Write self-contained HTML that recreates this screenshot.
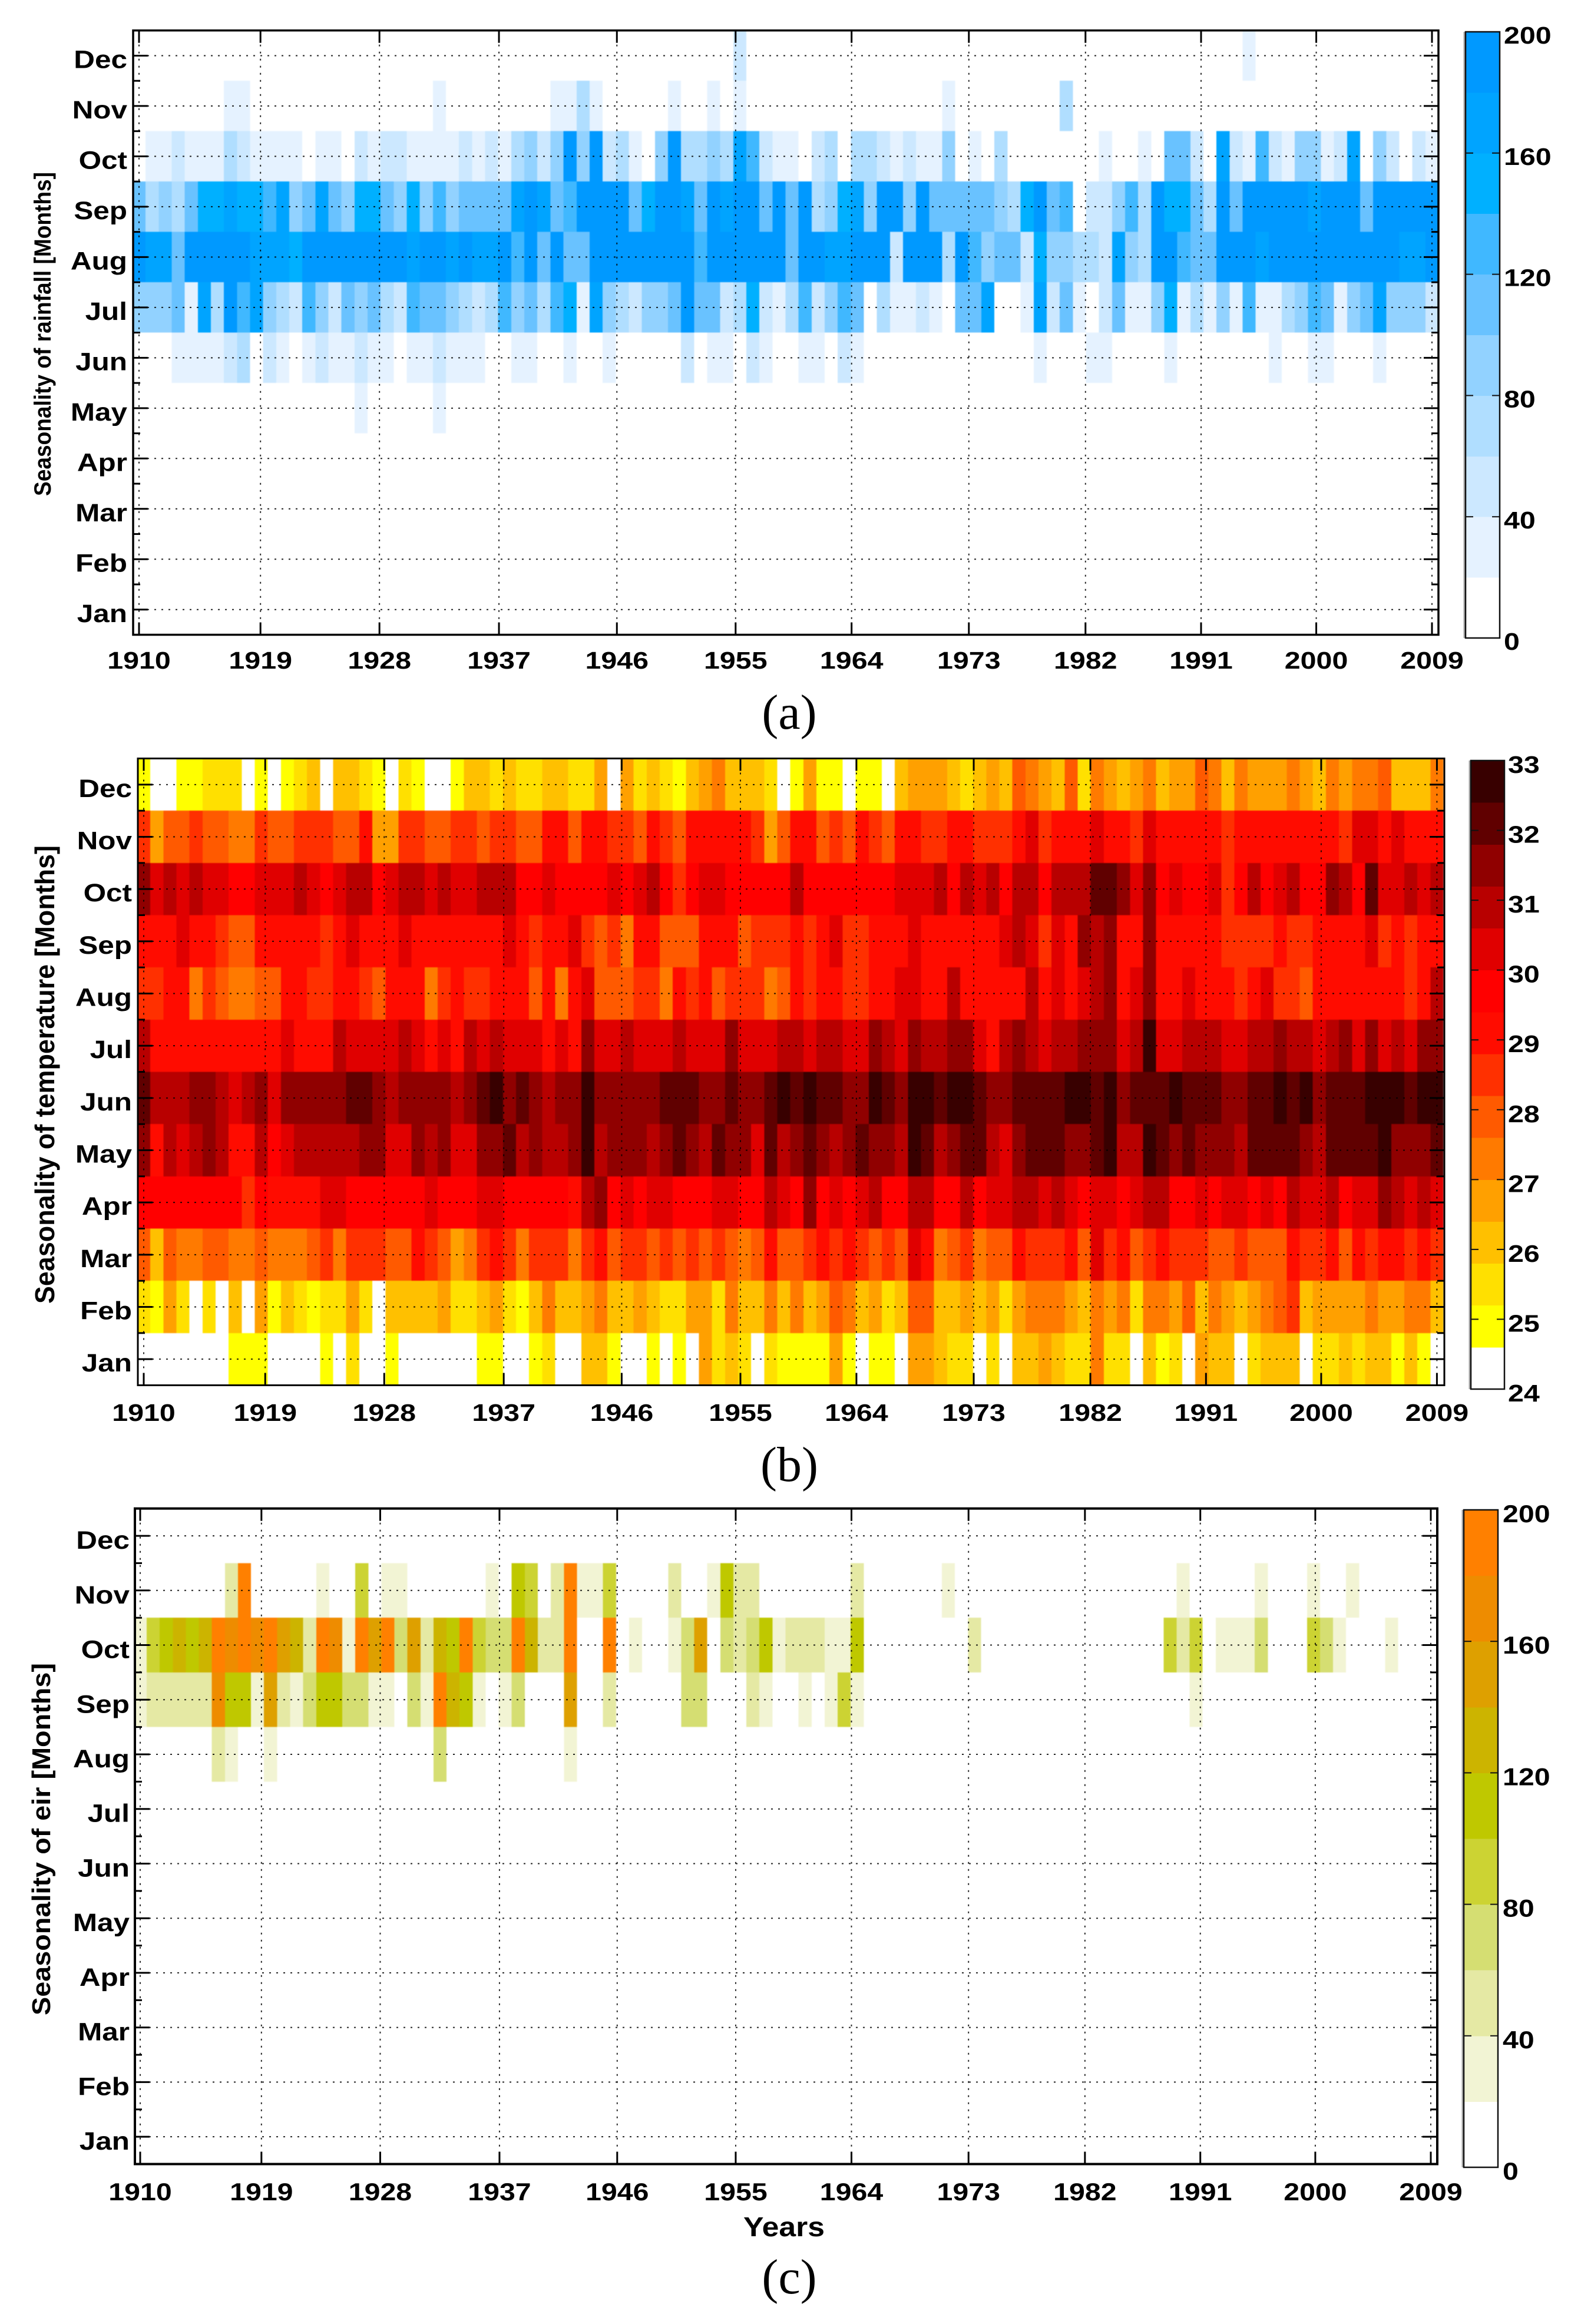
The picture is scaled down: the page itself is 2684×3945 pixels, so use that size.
<!DOCTYPE html>
<html lang="en">
<head>
<meta charset="utf-8">
<title>Seasonality of rainfall, temperature and EIR, 1910-2009</title>
<style>
html,body{margin:0;padding:0;background:#fff;}
#figure{display:block;width:2684px;height:3945px;background:#fff;}
text{fill:#000;}
.cells{filter:blur(0.9px);}
</style>
</head>
<body>
<svg id="figure" xmlns="http://www.w3.org/2000/svg" width="2684" height="3945" viewBox="0 0 2684 3945"></svg>
<script>
const yearTicks = [1910,1919,1928,1937,1946,1955,1964,1973,1982,1991,2000,2009];
/* the printed year ticks sit slightly off their true column; drift in years */
const yearTickDrift = [0,0.30,0.41,0.56,0.59,0.68,0.56,0.54,0.47,0.32,0.14,0];
const monthLabels = ['Jan','Feb','Mar','Apr','May','Jun','Jul','Aug','Sep','Oct','Nov','Dec'];
const rainBarTicks = [0,40,80,120,160,200];
const tempBarTicks = [24,25,26,27,28,29,30,31,32,33];
const eirBarTicks = [0,40,80,120,160,200];

const noSignal = [0,0,0,0,0,0,0,0,0,0,0,0,0,0,0,0,0,0,0,0,0,0,0,0,0,0,0,0,0,0,0,0,0,0,0,0,0,0,0,0,0,0,0,0,0,0,0,0,0,0,0,0,0,0,0,0,0,0,0,0,0,0,0,0,0,0,0,0,0,0,0,0,0,0,0,0,0,0,0,0,0,0,0,0,0,0,0,0,0,0,0,0,0,0,0,0,0,0,0,0];

/* Panel (a): rainfall */
const rainMay = [0,0,0,0,0,0,0,0,0,0, 0,0,0,0,0,0,0,30,0,0, 0,0,0,30,0,0,0,0,0,0, 0,0,0,0,0,0,0,0,0,0, 0,0,0,0,0,0,0,0,0,0, 0,0,0,0,0,0,0,0,0,0, 0,0,0,0,0,0,0,0,0,0, 0,0,0,0,0,0,0,0,0,0, 0,0,0,0,0,0,0,0,0,0, 0,0,0,0,0,0,0,0,0,0];
const rainJun = [0,0,0,30,30,30,30,50,70,0, 50,30,0,30,50,30,30,50,30,30, 0,30,30,50,30,30,30,0,0,30, 30,0,0,30,0,0,30,0,0,0, 0,0,50,0,30,30,0,50,30,0, 0,30,30,0,50,30,0,0,0,0, 0,0,0,0,0,0,0,0,0,30, 0,0,0,30,30,0,0,0,0,30, 0,0,0,0,0,0,0,30,0,0, 30,30,0,0,0,30,0,0,0,0];
const rainJul = [90,90,90,110,30,170,70,190,130,170, 90,70,50,130,90,50,110,90,110,70, 50,130,110,110,90,70,50,70,130,90, 110,70,130,150,30,170,90,70,50,90, 90,110,190,110,110,50,70,150,50,30, 70,130,50,90,130,110,0,70,30,30, 50,30,0,110,110,170,0,0,30,170, 50,110,30,0,50,110,30,30,90,150, 30,70,30,90,30,130,30,30,70,90, 130,110,30,90,110,170,90,90,90,50];
const rainAug = [190,170,170,110,190,190,190,190,190,170, 170,170,150,190,190,190,190,190,190,190, 190,170,190,190,170,190,170,170,190,130, 190,110,190,110,110,190,190,190,190,190, 190,190,190,130,190,190,190,190,190,190, 110,190,190,170,170,190,190,190,50,190, 190,190,70,190,130,90,110,110,50,150, 90,90,70,70,50,170,90,70,190,190, 130,110,110,190,190,190,170,190,190,190, 190,190,190,190,190,190,190,170,170,190];
const rainSep = [110,70,90,70,110,150,150,170,150,150, 130,170,90,110,170,110,90,150,150,110, 90,150,90,130,90,110,110,110,110,170, 190,170,110,130,190,190,190,190,110,150, 190,190,170,110,190,170,190,190,110,190, 110,190,70,90,150,170,90,190,190,90, 190,110,110,110,110,110,90,70,150,190, 110,130,0,50,50,90,130,70,190,150, 150,110,70,190,110,190,190,190,190,190, 170,190,190,190,110,190,190,190,190,190];
const rainOct = [0,30,30,50,30,30,30,70,50,30, 30,30,30,0,30,30,0,50,30,50, 50,30,30,30,30,50,30,50,30,70, 90,50,90,190,90,190,50,70,30,0, 90,190,70,70,90,70,170,130,50,30, 30,0,50,70,0,70,70,50,30,50, 30,30,90,0,30,0,70,0,0,0, 0,0,0,0,30,0,0,30,0,110, 110,50,0,170,50,30,130,50,30,90, 90,30,50,170,0,90,50,0,50,30];
const rainNov = [0,0,0,0,0,0,0,30,30,0, 0,0,0,0,0,0,0,0,0,0, 0,0,0,30,0,0,0,0,0,0, 0,0,30,30,70,30,0,0,0,0, 0,30,0,0,30,0,30,0,0,0, 0,0,0,0,0,0,0,0,0,0, 0,0,30,0,0,0,0,0,0,0, 0,70,0,0,0,0,0,0,0,0, 0,0,0,0,0,0,0,0,0,0, 0,0,0,0,0,0,0,0,0,0];
const rainDec = [0,0,0,0,0,0,0,0,0,0, 0,0,0,0,0,0,0,0,0,0, 0,0,0,0,0,0,0,0,0,0, 0,0,0,0,0,0,0,0,0,0, 0,0,0,0,0,0,50,0,0,0, 0,0,0,0,0,0,0,0,0,0, 0,0,0,0,0,0,0,0,0,0, 0,0,0,0,0,0,0,0,0,0, 0,0,0,0,0,30,0,0,0,0, 0,0,0,0,0,0,0,0,0,0];

/* Panel (b): temperature */
const tempJan = [24.3,24.3,24.3,24.3,24.3,24.3,24.3,24.9,24.9,24.9, 24.3,24.3,24.3,24.3,24.9,24.3,25.5,24.3,24.3,24.9, 24.3,24.3,24.3,24.3,24.3,24.3,24.9,24.9,24.3,24.3, 24.9,25.5,24.3,24.3,26.1,26.1,24.9,24.3,24.3,24.9, 24.3,24.9,24.3,26.7,25.5,26.1,25.5,24.3,25.5,24.9, 24.9,24.9,24.9,26.7,24.9,24.3,24.9,24.9,24.3,26.7, 26.7,26.1,25.5,25.5,24.3,25.5,24.3,26.1,26.1,26.7, 26.1,25.5,25.5,27.3,25.5,25.5,24.3,26.1,24.9,25.5, 24.3,26.7,26.1,26.1,24.3,25.5,26.1,26.1,26.1,24.3, 25.5,25.5,26.1,25.5,26.1,26.1,24.9,26.1,24.9,24.3];
const tempFeb = [25.5,24.9,26.7,25.5,24.3,25.5,24.3,26.1,24.3,26.7, 24.9,26.1,25.5,24.9,25.5,25.5,26.7,25.5,24.3,26.1, 26.1,26.1,26.1,26.7,25.5,25.5,26.1,26.7,25.5,24.9, 26.1,27.3,26.1,26.1,26.7,27.3,26.1,26.1,26.7,26.1, 25.5,25.5,26.7,26.7,25.5,27.3,26.1,26.1,27.3,26.1, 27.3,26.1,26.7,27.9,27.3,26.1,26.7,25.5,26.1,27.9, 27.9,26.1,26.1,26.7,26.1,26.7,25.5,26.7,27.3,27.3, 27.3,26.7,26.1,27.3,26.7,27.3,25.5,27.3,27.3,26.7, 27.9,26.1,27.3,26.7,26.1,26.7,27.3,27.9,28.5,26.1, 26.7,26.7,26.7,26.7,27.3,26.7,26.7,27.3,27.3,26.1];
const tempMar = [27.9,26.1,27.9,27.3,27.3,27.9,27.9,27.3,27.3,27.9, 27.3,27.3,27.3,27.9,28.5,27.3,28.5,28.5,28.5,27.9, 27.9,29.1,28.5,27.9,26.7,27.3,28.5,29.1,28.5,27.3, 28.5,28.5,28.5,27.3,28.5,29.1,27.9,28.5,28.5,27.9, 28.5,27.9,28.5,27.9,28.5,27.9,27.3,27.9,29.1,27.9, 27.9,28.5,29.1,28.5,29.1,28.5,27.9,28.5,27.9,30.3, 29.1,27.3,27.9,28.5,27.3,27.9,27.9,29.1,28.5,28.5, 28.5,29.1,27.9,30.3,28.5,29.1,27.9,28.5,29.1,28.5, 28.5,28.5,27.9,27.9,28.5,27.9,27.9,27.9,29.1,28.5, 28.5,29.1,27.9,29.1,28.5,29.1,29.1,28.5,29.1,28.5];
const tempApr = [29.7,29.7,29.7,29.7,29.7,29.7,29.7,29.7,28.5,29.7, 29.1,29.1,29.1,29.1,30.3,30.3,29.7,29.7,29.7,29.7, 29.7,29.7,30.3,29.7,29.7,29.7,30.3,30.3,29.7,29.7, 29.7,29.7,29.7,29.1,30.9,31.5,29.7,30.3,29.7,30.3, 30.3,29.7,29.7,29.7,30.3,30.3,29.7,29.7,30.9,30.3, 29.7,31.5,29.7,30.3,29.7,30.3,30.9,29.7,29.7,30.9, 30.9,29.7,29.7,30.9,29.7,30.3,30.3,30.9,30.9,30.3, 30.9,30.3,29.7,30.3,30.3,29.7,30.3,30.9,30.9,29.7, 29.7,30.3,29.7,30.3,30.3,29.7,30.3,29.7,30.9,30.3, 30.3,30.9,29.7,30.3,30.3,31.5,30.9,30.3,30.9,30.3];
const tempMay = [31.5,29.1,30.9,30.3,30.9,31.5,30.9,29.1,29.1,30.9, 29.7,30.3,30.9,30.9,30.9,30.9,30.9,31.5,31.5,30.3, 30.3,31.5,30.9,31.5,30.3,30.3,31.5,31.5,32.1,30.9, 31.5,30.9,30.9,31.5,32.7,30.9,31.5,31.5,31.5,30.9, 31.5,32.1,31.5,30.9,32.1,31.5,31.5,30.3,32.1,30.9, 31.5,32.1,31.5,30.9,31.5,32.1,31.5,31.5,30.9,32.7, 32.1,30.9,31.5,32.1,32.1,30.9,30.3,31.5,32.1,32.1, 32.1,31.5,31.5,32.1,32.7,30.9,30.9,32.7,32.1,31.5, 32.1,31.5,31.5,31.5,30.9,32.1,32.1,32.1,32.1,31.5, 30.9,32.1,32.1,32.1,32.1,32.7,31.5,31.5,31.5,32.1];
const tempJun = [32.1,30.9,30.9,30.9,31.5,31.5,30.9,30.3,30.9,31.5, 30.3,31.5,31.5,31.5,31.5,31.5,32.1,32.1,31.5,30.9, 31.5,31.5,31.5,31.5,30.9,31.5,32.1,32.7,31.5,32.1, 31.5,30.9,31.5,31.5,32.7,31.5,31.5,31.5,31.5,31.5, 32.1,32.1,32.1,31.5,31.5,32.1,31.5,31.5,32.1,32.7, 32.1,32.7,32.1,32.1,31.5,31.5,32.7,32.1,31.5,32.7, 32.7,32.1,32.7,32.7,32.1,31.5,31.5,32.1,32.1,32.1, 32.1,32.7,32.7,32.1,32.7,31.5,32.1,32.1,32.1,32.7, 32.1,32.1,32.1,31.5,31.5,32.1,32.1,32.7,32.1,32.7, 31.5,32.1,32.1,32.1,32.7,32.7,32.7,32.1,32.7,32.7];
const tempJul = [30.9,29.1,29.1,29.1,29.1,29.1,29.1,29.1,29.1,29.1, 29.1,30.3,29.1,29.1,29.1,30.9,30.3,30.3,30.3,30.3, 30.9,30.3,29.1,30.3,29.1,30.9,30.3,30.9,30.3,30.3, 30.3,29.1,30.3,29.1,31.5,30.3,30.3,30.9,30.3,30.3, 30.3,30.9,30.3,30.3,30.3,31.5,30.3,30.3,30.3,30.9, 30.9,30.3,30.9,30.9,30.3,30.3,31.5,30.9,30.3,31.5, 30.9,30.9,31.5,31.5,30.3,29.1,30.9,31.5,30.9,30.3, 30.9,30.9,31.5,31.5,31.5,30.3,30.9,32.7,30.3,30.3, 30.9,30.9,30.9,30.3,30.3,30.9,30.9,31.5,30.9,30.9, 30.3,30.9,31.5,30.3,31.5,30.3,30.9,30.3,31.5,31.5];
const tempAug = [28.5,28.5,29.1,29.1,27.3,28.5,27.9,27.3,27.3,27.9, 27.9,29.1,29.1,28.5,28.5,29.1,29.1,28.5,27.9,29.1, 29.1,29.1,27.3,28.5,29.1,28.5,28.5,29.1,29.1,29.1, 27.9,29.1,27.3,29.1,30.3,27.9,27.9,27.9,28.5,28.5, 27.3,29.1,28.5,29.1,27.9,28.5,28.5,28.5,27.3,27.9, 29.1,28.5,29.1,29.1,28.5,28.5,29.1,29.1,30.3,30.3, 29.1,29.1,30.9,29.1,29.1,29.1,29.1,29.1,30.9,29.1, 30.3,29.1,30.3,30.9,31.5,29.1,30.3,31.5,29.1,29.1, 30.3,29.1,29.1,29.1,28.5,29.1,30.3,28.5,28.5,27.9, 29.1,29.1,29.1,29.1,29.1,29.1,29.1,28.5,29.1,30.9];
const tempSep = [29.1,29.1,29.1,30.3,29.1,29.1,28.5,27.9,27.9,29.1, 29.1,29.1,29.1,29.1,28.5,29.1,30.3,29.1,29.1,29.1, 30.3,29.1,29.1,29.1,29.1,29.1,29.1,29.1,30.3,29.1, 28.5,29.1,29.1,30.3,28.5,27.9,28.5,27.3,29.1,29.1, 27.9,27.9,27.9,29.1,29.1,29.1,27.9,28.5,28.5,28.5, 29.1,28.5,29.1,30.3,28.5,28.5,29.1,29.1,29.1,30.3, 29.1,29.1,29.1,29.1,29.1,29.1,30.3,30.9,30.3,28.5, 30.3,29.1,31.5,30.9,31.5,29.1,29.1,31.5,29.1,29.1, 29.1,29.1,29.1,28.5,28.5,28.5,28.5,29.1,28.5,28.5, 29.1,29.1,29.1,29.1,30.3,28.5,29.1,28.5,29.1,29.1];
const tempOct = [31.5,30.3,30.9,30.3,30.9,30.3,30.3,29.7,29.7,30.3, 30.3,30.3,30.9,30.3,29.7,30.3,30.9,30.9,29.7,30.3, 30.9,30.9,30.3,30.9,30.3,30.3,30.9,30.9,30.9,29.7, 29.7,30.3,29.7,29.7,29.7,29.7,30.3,29.7,30.3,30.9, 29.7,28.5,29.7,30.3,30.3,29.7,29.7,29.7,29.7,29.7, 30.9,29.7,29.7,29.7,29.7,29.7,29.7,29.7,30.3,30.3, 30.3,30.9,29.7,30.9,30.3,30.9,29.7,30.9,30.9,29.7, 30.9,30.9,30.9,32.1,32.1,31.5,30.3,31.5,29.7,30.3, 29.7,29.7,30.3,28.5,29.7,30.9,29.7,30.3,30.9,29.7, 29.7,31.5,30.9,29.7,32.1,30.3,30.3,30.9,30.3,30.9];
const tempNov = [28.5,26.7,27.9,27.9,28.5,27.9,27.9,27.3,27.3,28.5, 27.9,27.9,28.5,28.5,28.5,27.9,27.9,29.1,26.7,26.7, 28.5,28.5,27.9,27.9,28.5,28.5,27.9,28.5,28.5,27.9, 27.9,29.1,29.1,27.9,29.1,29.1,28.5,28.5,27.9,29.1, 28.5,27.9,29.1,29.1,29.1,29.1,29.1,28.5,26.7,27.9, 29.1,29.1,27.9,28.5,27.9,29.1,28.5,27.9,29.1,29.1, 28.5,28.5,29.1,29.1,28.5,28.5,28.5,29.1,30.3,28.5, 29.1,29.1,29.1,30.3,29.1,29.1,28.5,30.3,29.1,29.1, 29.1,29.1,29.1,28.5,29.1,29.1,29.1,29.1,29.1,29.1, 29.1,29.1,28.5,30.3,30.3,29.1,30.3,29.1,29.1,29.1];
const tempDec = [24.9,24.3,24.3,24.9,24.9,25.5,25.5,25.5,24.3,24.9, 24.3,24.9,25.5,26.1,24.3,26.1,26.1,25.5,24.9,24.3, 25.5,24.9,24.3,24.3,24.9,26.1,26.1,25.5,26.1,25.5, 25.5,26.1,26.1,25.5,25.5,26.7,24.3,26.7,25.5,26.1, 25.5,24.9,26.1,26.7,27.3,26.1,26.1,26.1,25.5,24.3, 24.9,26.7,24.9,24.9,24.3,24.9,24.9,24.3,26.1,26.7, 26.7,26.7,26.1,25.5,26.1,26.7,26.1,27.9,27.3,26.7, 26.1,27.9,25.5,27.3,26.7,26.1,26.7,27.3,26.1,26.7, 26.7,27.9,27.3,26.1,27.3,26.7,26.7,26.7,27.3,26.7, 26.1,27.3,26.7,27.3,27.3,27.9,26.1,26.1,26.1,27.3];

/* Panel (c): EIR */
const eirAug = [0,0,0,0,0,0,50,30,0,0, 30,0,0,0,0,0,0,0,0,0, 0,0,0,70,0,0,0,0,0,0, 0,0,0,30,0,0,0,0,0,0, 0,0,0,0,0,0,0,0,0,0, 0,0,0,0,0,0,0,0,0,0, 0,0,0,0,0,0,0,0,0,0, 0,0,0,0,0,0,0,0,0,0, 0,0,0,0,0,0,0,0,0,0, 0,0,0,0,0,0,0,0,0,0];
const eirSep = [30,50,50,50,50,50,170,110,110,30, 150,50,30,70,110,110,70,70,30,30, 0,70,30,190,130,110,30,0,30,70, 0,0,0,150,0,0,50,0,0,0, 0,0,70,70,0,0,0,50,30,0, 0,30,0,30,90,30,0,0,0,0, 0,0,0,0,0,0,0,0,0,0, 0,0,0,0,0,0,0,0,0,0, 0,30,0,0,0,0,0,0,0,0, 0,0,0,0,0,0,0,0,0,0];
const eirOct = [30,90,110,130,110,130,190,170,190,170, 190,150,130,50,190,170,30,190,150,190, 70,150,50,130,110,190,90,70,70,190, 130,50,50,190,0,0,190,0,30,0, 0,30,70,150,0,70,50,70,110,30, 50,50,50,30,30,110,0,0,0,0, 0,0,0,0,50,0,0,0,0,0, 0,0,0,0,0,0,0,0,0,90, 50,90,0,30,30,30,70,0,0,0, 90,70,30,0,0,0,30,0,0,0];
const eirNov = [0,0,0,0,0,0,0,50,190,0, 0,0,0,0,30,0,0,90,0,30, 30,0,0,0,0,0,0,30,0,110, 90,0,50,190,30,30,90,0,0,0, 0,50,0,0,30,110,50,50,0,0, 0,0,0,0,0,50,0,0,0,0, 0,0,30,0,0,0,0,0,0,0, 0,0,0,0,0,0,0,0,0,0, 30,0,0,0,0,0,30,0,0,0, 30,0,0,30,0,0,0,0,0,0];

const rainSeries = [noSignal,noSignal,noSignal,noSignal,rainMay,rainJun,rainJul,rainAug,rainSep,rainOct,rainNov,rainDec];
const tempSeries = [tempJan,tempFeb,tempMar,tempApr,tempMay,tempJun,tempJul,tempAug,tempSep,tempOct,tempNov,tempDec];
const eirSeries = [noSignal,noSignal,noSignal,noSignal,noSignal,noSignal,noSignal,eirAug,eirSep,eirOct,eirNov,noSignal];

const rainColors = ['#ffffff','#e5f2ff','#cce8ff','#b0deff','#92d2ff','#69c2ff','#40b8ff','#00b0ff','#00a4ff','#0099ff'];
const tempColors = ['#ffffff','#ffff00','#ffe000','#ffc000','#ffa000','#ff7a00','#ff5a00','#ff3000','#ff0c00','#ff0000','#e00000','#b80000','#900000','#600000','#380000'];
const eirColors = ['#ffffff','#f2f4d4','#e5e9a4','#d5de72','#ccd333','#bfc800','#ccb400','#dea000','#ee8c00','#ff8000'];

const SVG_NS = 'http://www.w3.org/2000/svg';
const LABEL_FONT = '"Liberation Sans", sans-serif';
const figure = document.getElementById('figure');

function node(tag, attrs, parent) {
  const el = document.createElementNS(SVG_NS, tag);
  for (const k in attrs) el.setAttribute(k, attrs[k]);
  parent.appendChild(el);
  return el;
}
function stretchedText(str, x, y, size, sx, anchor, parent) {
  const el = node('text', {
    transform: 'translate(' + x + ',' + y + ') scale(' + sx + ',1)',
    'font-family': LABEL_FONT, 'font-weight': 'bold', 'font-size': size, 'text-anchor': anchor
  }, parent);
  el.textContent = str;
  return el;
}

function drawPanel(p) {
  const panel = node('g', {}, figure);
  
  

  const colorStep = (p.vMax - p.vMin) / p.colors.length;
  const xScale = y => p.x1910 + (y - 1910) * (p.x2009 - p.x1910) / 99;
  const yScale = m => p.bottom - (m + 0.5) * (p.bottom - p.top) / 12;
  const barScale = v => p.barTop + (p.vMax - v) * (p.barBottom - p.barTop) / (p.vMax - p.vMin);
  const colorOf = v => p.colors[Math.max(0, Math.min(p.colors.length - 1, Math.floor((v - p.vMin) / colorStep)))];
  const cellW = (p.x2009 - p.x1910) / 99;
  const cellH = (p.bottom - p.top) / 12;

  const cells = node('g', {class: 'cells', 'shape-rendering': 'crispEdges'}, panel);
  
  
  p.series.forEach((row, m) => {
    row.forEach((v, i) => {
      const cx = xScale(1910 + i);
      const left = Math.max(p.left, cx - cellW / 2);
      const right = Math.min(p.right, cx + cellW / 2);
      const cell = node('rect', {
        x: left, y: yScale(m) - cellH / 2, width: right - left, height: cellH, fill: colorOf(v)
      }, cells);
      
      
    });
  });

  const grid = node('g', {stroke: '#000', 'stroke-width': 2, 'stroke-opacity': 0.85}, panel);
  
  
  monthLabels.forEach((label, m) => {
    const line = node('line', {x1: p.left, x2: p.right, y1: yScale(m), y2: yScale(m), 'stroke-dasharray': '3 9'}, grid);
    
    
  });
  yearTicks.forEach((year, t) => {
    const x = xScale(year + yearTickDrift[t]);
    const line = node('line', {x1: x, x2: x, y1: p.top, y2: p.bottom, 'stroke-dasharray': '3 9'}, grid);
    
    
  });

  const ticks = node('g', {stroke: '#000', 'stroke-width': 3}, panel);
  
  
  yearTicks.forEach((year, t) => {
    const x = xScale(year + yearTickDrift[t]);
    const topTick = node('line', {x1: x, x2: x, y1: p.top, y2: p.top + 21}, ticks);
    
    
    const bottomTick = node('line', {x1: x, x2: x, y1: p.bottom - 21, y2: p.bottom}, ticks);
    
    
    const label = stretchedText(String(year), x, p.xLabelY, p.fontSize, p.digitStretch, 'middle', panel);
    
    
  });
  monthLabels.forEach((month, m) => {
    const y = yScale(m);
    const leftTick = node('line', {x1: p.left, x2: p.left + 25, y1: y, y2: y}, ticks);
    
    
    const rightTick = node('line', {x1: p.right - 25, x2: p.right, y1: y, y2: y}, ticks);
    
    
    if (m < 11) {
      const yb = y - cellH / 2;
      const minorLeft = node('line', {x1: p.left, x2: p.left + 12, y1: yb, y2: yb}, ticks);
      
      
      const minorRight = node('line', {x1: p.right - 12, x2: p.right, y1: yb, y2: yb}, ticks);
      
      
    }
    const label = stretchedText(month, p.yLabelX, y + p.yLabelDy, 43, 1.15, 'end', panel);
    
    
  });

  const frame = node('rect', {x: p.left, y: p.top, width: p.right - p.left, height: p.bottom - p.top, fill: 'none', stroke: '#000', 'stroke-width': p.frameWidth}, panel);
  
  

  const title = node('text', {
    transform: 'translate(' + p.titleX + ',' + p.titleCY + ') rotate(-90)',
    'font-family': LABEL_FONT, 'font-weight': 'bold', 'font-size': p.titleSize, 'text-anchor': 'middle',
    textLength: p.titleLen, lengthAdjust: 'spacingAndGlyphs'
  }, panel);
  title.textContent = p.title;
  
  

  /* colour bar */
  const bar = node('g', {}, panel);
  
  
  p.colors.forEach((color, k) => {
    const lo = p.vMin + k * colorStep;
    const seg = node('rect', {x: p.barLeft, y: barScale(lo + colorStep), width: p.barRight - p.barLeft, height: barScale(lo) - barScale(lo + colorStep) + 0.5, fill: color, 'shape-rendering': 'crispEdges'}, bar);
    
    
  });
  const barShadow = node('line', {x1: p.barLeft - 2, x2: p.barLeft - 2, y1: p.barTop, y2: p.barBottom, stroke: '#aaa', 'stroke-width': 3}, bar);
  
  
  const barFrame = node('rect', {x: p.barLeft, y: p.barTop, width: p.barRight - p.barLeft, height: p.barBottom - p.barTop, fill: 'none', stroke: '#111', 'stroke-width': 2.5}, bar);
  
  
  p.barTicks.forEach(v => {
    const y = barScale(v);
    const tl = node('line', {x1: p.barLeft, x2: p.barLeft + 13, y1: y, y2: y, stroke: '#111', 'stroke-width': 2}, bar);
    
    
    const tr = node('line', {x1: p.barRight - 13, x2: p.barRight, y1: y, y2: y, stroke: '#111', 'stroke-width': 2}, bar);
    
    
    const label = stretchedText(String(v), p.barLabelX, y + p.barLabelDy, p.fontSize, p.digitStretch, 'start', bar);
    
    
  });

  const caption = node('text', {x: 1340, y: p.captionY, 'font-family': '"Liberation Serif", serif', 'font-size': 84, 'text-anchor': 'middle'}, panel);
  caption.textContent = p.caption;
  
  
}

drawPanel({name: 'rainfall', series: rainSeries, colors: rainColors, vMin: 0, vMax: 200, barTicks: rainBarTicks,
  left: 226, right: 2442, top: 51.7, bottom: 1077.5, x1910: 236, x2009: 2431,
  barLeft: 2488, barRight: 2546, barTop: 54, barBottom: 1083, barLabelX: 2553, barLabelDy: 20,
  fontSize: 41, digitStretch: 1.18, xLabelY: 1135, yLabelX: 216, yLabelDy: 21, frameWidth: 3.5,
  title: 'Seasonality of rainfall [Months]', titleX: 86, titleCY: 567, titleSize: 40, titleLen: 550,
  caption: '(a)', captionY: 1237});

drawPanel({name: 'temperature', series: tempSeries, colors: tempColors, vMin: 24, vMax: 33, barTicks: tempBarTicks,
  left: 234, right: 2452, top: 1287.5, bottom: 2351.5, x1910: 244, x2009: 2439.4,
  barLeft: 2497, barRight: 2554, barTop: 1291, barBottom: 2358, barLabelX: 2560, barLabelDy: 21,
  fontSize: 41, digitStretch: 1.18, xLabelY: 2412, yLabelX: 224, yLabelDy: 21, frameWidth: 3,
  title: 'Seasonality of temperature [Months]', titleX: 92, titleCY: 1824, titleSize: 46, titleLen: 778,
  caption: '(b)', captionY: 2514});

drawPanel({name: 'eir', series: eirSeries, colors: eirColors, vMin: 0, vMax: 200, barTicks: eirBarTicks,
  left: 229, right: 2440, top: 2560.7, bottom: 3673.5, x1910: 238, x2009: 2429,
  barLeft: 2485, barRight: 2543, barTop: 2563, barBottom: 3679, barLabelX: 2551, barLabelDy: 21,
  fontSize: 42, digitStretch: 1.15, xLabelY: 3735, yLabelX: 220, yLabelDy: 22, frameWidth: 4,
  title: 'Seasonality of eir [Months]', titleX: 85, titleCY: 3122, titleSize: 44, titleLen: 598,
  caption: '(c)', captionY: 3893});

const xAxisTitle = node('text', {x: 1331, y: 3796, 'font-family': LABEL_FONT, 'font-weight': 'bold', 'font-size': 46, 'text-anchor': 'middle', textLength: 138, lengthAdjust: 'spacingAndGlyphs'}, figure);
xAxisTitle.textContent = 'Years';


</script>
</body>
</html>
